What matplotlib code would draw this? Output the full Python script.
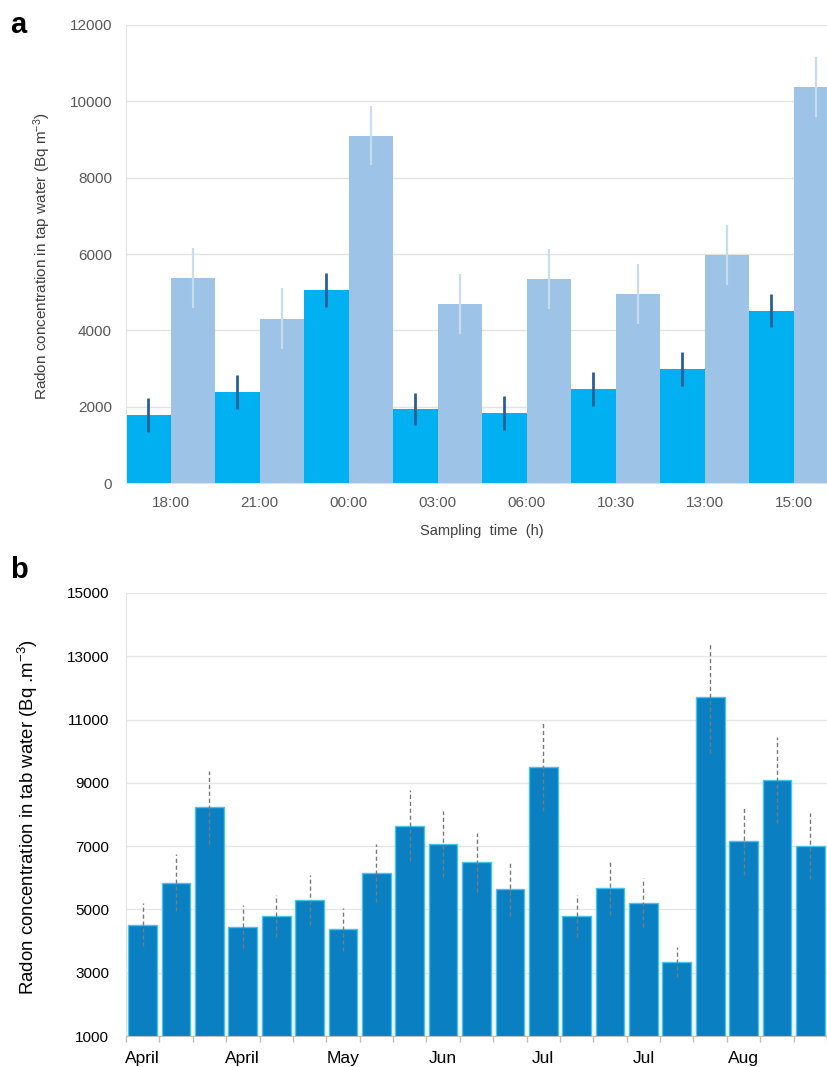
import matplotlib
matplotlib.use("Agg")
import matplotlib.pyplot as plt
import numpy as np

plt.rcParams['font.family'] = ['Liberation Sans', 'DejaVu Sans']
plt.rcParams['mathtext.fontset'] = 'custom'
plt.rcParams['mathtext.rm'] = 'Liberation Sans'
plt.rcParams['mathtext.it'] = 'Liberation Sans:italic'
plt.rcParams['mathtext.bf'] = 'Liberation Sans:bold'

# ---------------- Panel a data ----------------
times = ["18:00", "21:00", "00:00", "03:00", "06:00", "10:30", "13:00", "15:00"]
dark_vals = [1780, 2390, 5060, 1940, 1840, 2460, 2990, 4510]
dark_err = [450, 445, 445, 430, 445, 445, 445, 430]
light_vals = [5370, 4300, 9100, 4690, 5350, 4960, 5980, 10380]
light_err = [775, 800, 775, 785, 785, 785, 785, 785]
a_yticks = [0, 2000, 4000, 6000, 8000, 10000, 12000]

# ---------------- Panel b data ----------------
b_vals = [4510, 5850, 8230, 4450, 4800, 5300, 4370, 6160, 7650, 7070,
          6490, 5650, 9510, 4790, 5690, 5210, 3350, 11700, 7170, 9080, 7000]
b_err = [680, 890, 1150, 680, 660, 800, 670, 920, 1130, 1050,
         940, 870, 1400, 670, 880, 780, 470, 1750, 1090, 1360, 1040]
b_month_labels = ["April", "April", "May", "Jun", "Jul", "Jul", "Aug"]
b_label_idx = [0, 3, 6, 9, 12, 15, 18]
b_yticks = [1000, 3000, 5000, 7000, 9000, 11000, 13000, 15000]

W, H = 827, 1067
fig = plt.figure(figsize=(W / 100, H / 100), dpi=100)

# ---------------- Panel a ----------------
axa = fig.add_axes([126 / W, 1 - 483 / H, 1 - 126 / W, (483 - 25) / H])
xa = np.arange(len(times))
axa.bar(xa - 0.25, dark_vals, width=0.5, color='#00b0f0', zorder=2)
axa.bar(xa + 0.25, light_vals, width=0.5, color='#9dc3e6', zorder=2)
axa.errorbar(xa - 0.25, dark_vals, yerr=dark_err, fmt='none', ecolor='#2a5f96',
             elinewidth=2, capsize=0, zorder=3)
axa.errorbar(xa + 0.25, light_vals, yerr=light_err, fmt='none', ecolor='#c7dcf0',
             elinewidth=1.6, capsize=0, zorder=3)
axa.set_xlim(-0.5, 7.376)
axa.set_ylim(0, 12000)
axa.set_yticks(a_yticks)
axa.set_yticklabels([str(v) for v in a_yticks])
axa.set_xticks(xa)
axa.set_xticklabels(times)
axa.tick_params(axis='both', length=0, labelsize=11, colors='#595959')
axa.tick_params(axis='y', pad=10)
axa.tick_params(axis='x', pad=9)
axa.grid(axis='y', color='#e3e3e3', linewidth=1, zorder=0)
axa.set_axisbelow(True)
for s in ['top', 'right']:
    axa.spines[s].set_visible(False)
axa.spines['left'].set_color('#e3e3e3')
axa.spines['bottom'].set_color('#e3e3e3')
fig.text(42 / W, 1 - 256 / H, "Radon concentration in tap water (Bq m$^{-3}$)",
         rotation=90, ha='center', va='center', fontsize=11, color='#404040')
fig.text(482 / W, 1 - 531 / H, "Sampling  time  (h)", ha='center', va='center',
         fontsize=10.5, color='#404040')
fig.text(10 / W, 1 - 25 / H, "a", fontsize=21, fontweight='bold', ha='left', va='center')

# ---------------- Panel b ----------------
axb = fig.add_axes([126 / W, 1 - 1036 / H, 1 - 126 / W, (1036 - 593) / H])
xb = np.arange(len(b_vals))
axb.bar(xb, b_vals, width=0.86, color='#0a7fc2', edgecolor='#45c4ee',
        linewidth=1, zorder=2)
axb.errorbar(xb, b_vals, yerr=b_err, fmt='none', ecolor='#7a7a7a',
             elinewidth=1, capsize=0, linestyle='--', zorder=3)
for line in axb.collections:
    line.set_linestyle((0, (3, 2)))
axb.set_xlim(-0.5, 20.24)
axb.set_ylim(1000, 15000)
axb.set_yticks(b_yticks)
axb.set_yticklabels([str(v) for v in b_yticks])
axb.set_xticks(np.arange(-0.5, len(b_vals) + 0.5, 1.0))
axb.set_xticklabels([])
axb.set_xticks(b_label_idx, minor=True)
axb.set_xticklabels(b_month_labels, minor=True)
axb.tick_params(axis='x', which='major', length=4, color='#bfbfbf', width=1)
axb.tick_params(axis='x', which='minor', length=0, labelsize=12.5, colors='black', pad=11)
axb.tick_params(axis='y', length=0, labelsize=11, colors='black', pad=12)
axb.grid(axis='y', color='#e6e6e6', linewidth=1, zorder=0)
axb.set_axisbelow(True)
for s in ['top', 'right']:
    axb.spines[s].set_visible(False)
axb.spines['left'].set_color('#e3e3e3')
axb.spines['bottom'].set_color('#bfbfbf')
fig.text(28 / W, 1 - 817 / H, "Radon concentration in tab water (Bq .m$^{-3}$)",
         rotation=90, ha='center', va='center', fontsize=13.4, color='black')
fig.text(10 / W, 1 - 570 / H, "b", fontsize=21, fontweight='bold', ha='left', va='center')

fig.savefig("out.png", dpi=100)
